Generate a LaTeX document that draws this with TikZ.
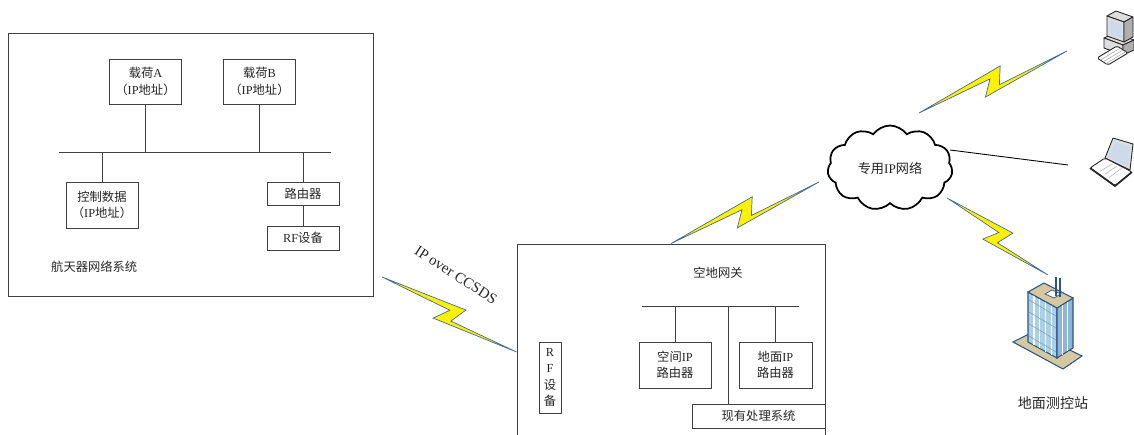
\documentclass[tikz,border=0pt]{standalone}
\usepackage{fontspec}
\setmainfont{Liberation Serif}
\newfontfamily\cjk{Noto Sans CJK SC}
\usepackage{xcolor}
\usetikzlibrary{positioning, shapes.symbols, calc}

\definecolor{boltedge}{RGB}{70,105,160}
\definecolor{pcgrey}{RGB}{222,222,222}
\definecolor{pcdark}{RGB}{175,175,175}
\definecolor{screen}{RGB}{205,218,236}
\definecolor{glass}{RGB}{172,208,228}
\definecolor{glassdk}{RGB}{140,182,210}
\definecolor{frame}{RGB}{45,85,135}
\definecolor{roof}{RGB}{214,200,160}

\newcommand{\zh}[1]{{\cjk #1}}
% zigzag radio link between two points
\newcommand{\radiolink}[2]{%
  \draw[bolt] (#1) -- ($(#1)!0.58!(#2)!0.24cm!90:(#2)$)
    -- ($(#1)!0.53!(#2)!0.1cm!-90:(#2)$) -- (#2)
    -- ($(#1)!0.42!(#2)!0.22cm!-90:(#2)$)
    -- ($(#1)!0.49!(#2)!0.08cm!90:(#2)$) -- cycle;}

\begin{document}
\begin{tikzpicture}[
  x=0.02cm, y=-0.02cm,
  every node/.style={font=\fontsize{7}{9.4}\selectfont, text=black!85},
  box/.style={draw=black!75, line width=0.5pt, inner sep=0pt, align=center},
  link/.style={draw=black!75, line width=0.5pt},
  bolt/.style={fill=yellow, draw=boltedge, line width=0.4pt},
  icon/.style={draw=black!85, line width=0.5pt, line join=round},
]
\useasboundingbox (0,0) rectangle (1134,435);
\clip (0,0) rectangle (1134,435);

% spacecraft network
\node[box, minimum width=7.3cm, minimum height=5.26cm] (scnet) at (190.5,164.5) {};
\node[box, minimum width=1.44cm, minimum height=0.9cm] (pla) at (145.5,81.5) {\zh{载荷}A\\\zh{（}IP\zh{地址）}};
\node[box, minimum width=1.44cm, minimum height=0.9cm] (plb) at (259.5,81.5) {\zh{载荷}B\\\zh{（}IP\zh{地址）}};
\node[box, minimum width=1.44cm, minimum height=0.92cm] (ctrl) at (102,205) {\zh{控制数据}\\\zh{（}IP\zh{地址）}};
\node[box, minimum width=1.44cm, minimum height=0.46cm] (rtr) at (303,193.5) {\zh{路由器}};
\node[box, minimum width=1.44cm, minimum height=0.48cm] (rf) at (303,238) {RF\zh{设备}};
\node[anchor=west] (sclabel) at (45,267) {\zh{航天器网络系统}};
\coordinate (busl) at (59,152);
\coordinate (busr) at (331,152);
\draw[link] (busl) -- (busr);
\draw[link] (pla) -- (pla |- busl);
\draw[link] (plb) -- (plb |- busl);
\draw[link] (ctrl) -- (ctrl |- busl);
\draw[link] (rtr) -- (rtr |- busl);
\draw[link] (rtr) -- (rf);

% ground gateway
\node[box, minimum width=6.16cm, minimum height=4.32cm] (gw) at (671,352) {};
\node (gwlabel) at (718,273) {\zh{空地网关}};
\node[box, minimum width=1.44cm, minimum height=0.92cm] (sprt) at (675,365) {\zh{空间}IP\\\zh{路由器}};
\node[box, minimum width=1.46cm, minimum height=0.92cm] (gdrt) at (775.5,365) {\zh{地面}IP\\\zh{路由器}};
\node[box, minimum width=2.66cm, minimum height=0.48cm] (proc) at (758.5,416) {\zh{现有处理系统}};
\node[box, minimum width=0.44cm, minimum height=1.42cm] (gwrf) at (550,377.5) {R\\F\\\zh{设}\\\zh{备}};
\coordinate (gbusl) at (642,306);
\coordinate (gbusr) at (799,306);
\coordinate (gbusm) at (728,306);
\draw[link] (gbusl) -- (gbusr);
\draw[link] (sprt) -- (sprt |- gbusl);
\draw[link] (gdrt) -- (gdrt |- gbusl);
\draw[link] (gbusm) -- (proc.north -| gbusm);

% private IP network
\node[cloud, draw=black, line width=1pt, cloud puffs=11, cloud puff arc=110, aspect=1.45,
  minimum width=2.5cm, minimum height=1.7cm, inner sep=0pt,
  font=\fontsize{7.5}{9}\selectfont] (net) at (890,168) {\zh{专用}IP\zh{网络}};

\coordinate (scant) at (382,277);
\coordinate (netsw) at (819,182);
\coordinate (netne) at (919,113);
\coordinate (netse) at (947,198);
\coordinate (neteast) at (950,150);
\coordinate (pclink) at (1067,51);
\coordinate (laplink) at (1068,165);
\coordinate (stlink) at (1048,275);

\radiolink{scant}{gw.west}
\radiolink{gw.north}{netsw}
\radiolink{netne}{pclink}
\radiolink{netse}{stlink}
\draw[black, line width=0.5pt] (neteast) -- (laplink);
\node[rotate=-33, font=\fontsize{8.5}{10}\selectfont] (ccsds) at (456,275) {IP over CCSDS};

% desktop
\coordinate (pc) at (1115,35);
\filldraw[icon, fill=pcgrey] (1104,38) -- (1115,33) -- (1134,40) -- (1123,45) -- cycle;
\filldraw[icon, fill=pcgrey] (1104,38) -- (1123,45) -- (1123,55) -- (1104,48) -- cycle;
\filldraw[icon, fill=pcdark] (1123,45) -- (1134,40) -- (1134,50) -- (1123,55) -- cycle;
\filldraw[icon, fill=pcgrey] (1107,16) -- (1116,11) -- (1133,17) -- (1124,22) -- cycle;
\filldraw[icon, fill=pcgrey] (1107,16) -- (1124,22) -- (1124,42) -- (1107,36) -- cycle;
\filldraw[icon, fill=pcdark] (1124,22) -- (1133,17) -- (1133,37) -- (1124,42) -- cycle;
\fill[screen] (1110,20) -- (1121,24) -- (1121,38) -- (1110,34) -- cycle;
\filldraw[icon, fill=white, rounded corners=1pt] (1097,58) -- (1117,46) -- (1128,53) -- (1108,65) -- cycle;
\foreach \k in {0.3,0.55,0.8}
  \draw[black!35, line width=0.3pt] ($(1097,58)!\k!(1108,65)$) -- ($(1117,46)!\k!(1128,53)$);

% laptop
\coordinate (laptop) at (1112,162);
\filldraw[icon, fill=pcgrey] (1105,158) -- (1113,138) -- (1133,144) -- (1130,170) -- cycle;
\fill[screen] (1108,157) -- (1115,142) -- (1130,147) -- (1128,166) -- cycle;
\filldraw[icon, fill=white, rounded corners=1pt] (1090,168) -- (1105,158) -- (1132,172) -- (1115,186) -- cycle;
\draw[black!85, line width=1pt] (1090,168) -- (1115,186) -- (1132,172);
\foreach \k in {0.3,0.5,0.7}
  \draw[black!30, line width=0.3pt] ($(1093,167)!\k!(1116,182)$) -- ($(1106,160)!\k!(1128,172)$);

% ground station
\coordinate (station) at (1050,320);
\filldraw[draw=frame, line width=0.6pt, fill=roof] (1013,342) -- (1033,332) -- (1082,356) -- (1063,369) -- cycle;
\filldraw[draw=frame, line width=0.6pt, fill=glass] (1028,292) -- (1057,308) -- (1057,358) -- (1028,342) -- cycle;
\filldraw[draw=frame, line width=0.6pt, fill=glassdk] (1057,308) -- (1073,298) -- (1073,348) -- (1057,358) -- cycle;
\foreach \f in {0.2,0.4,0.6,0.8}
  \draw[white, line width=0.8pt] ({1028+29*\f},{292+16*\f}) -- ++(0,50);
\foreach \g in {0.33,0.67}
  \draw[white, line width=0.8pt] ({1057+16*\g},{308-10*\g}) -- ++(0,50);
\foreach \h in {8,20,32,44}
  \draw[frame!60, line width=0.3pt] (1029,{292+\h}) -- (1056,{308+\h});
\filldraw[draw=frame, line width=0.6pt, fill=roof] (1028,292) -- (1044,283) -- (1073,298) -- (1057,308) -- cycle;
\filldraw[draw=frame, line width=0.4pt, fill=white] (1045,294) -- (1052,290) -- (1061,294) -- (1054,298) -- cycle;
\draw[frame, line width=1pt] (1056,277) -- (1056,296) (1060,278) -- (1060,297);
\node[font=\fontsize{8}{10}\selectfont] (stlabel) at (1053,403) {\zh{地面测控站}};
\end{tikzpicture}
\end{document}
